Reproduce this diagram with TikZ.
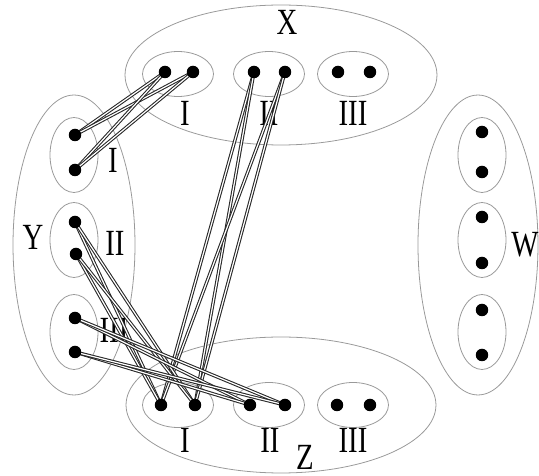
\documentclass[tikz,border=0pt]{standalone}
\usepackage{fontspec}
\setmainfont{Liberation Serif}
\newfontfamily\lblfont[FakeStretch=0.78]{Liberation Serif}
\usetikzlibrary{shapes.geometric}
\begin{document}
\begin{tikzpicture}[x=0.02cm, y=-0.02cm,
  grp/.style={draw=black!40, ellipse, inner sep=0pt, line width=0.45pt},
  sub/.style={draw=black!40, ellipse, inner sep=0pt, line width=0.45pt,
              minimum width=1.42cm, minimum height=0.9cm},
  vsub/.style={draw=black!40, ellipse, inner sep=0pt, line width=0.45pt,
              minimum width=0.96cm, minimum height=1.5cm},
  dot/.style={fill=black, circle, inner sep=0pt, minimum size=0.25cm},
  link/.style={draw=black!85, double=white, double distance=0.7pt, line width=0.6pt},
  lbl/.style={font=\lblfont\fontsize{21}{21}\selectfont, inner sep=0pt}]
  \useasboundingbox (0,0) rectangle (539,476);

  % the four groups
  \node (X) [grp, minimum width=6.24cm, minimum height=2.8cm] at (281,75) {};
  \node (Z) [grp, minimum width=6.2cm, minimum height=2.72cm] at (281,405) {};
  \node (Y) [grp, minimum width=2.44cm, minimum height=6cm] at (74,245) {};
  \node (W) [grp, minimum width=2.4cm, minimum height=6cm] at (478,245) {};

  % parts of X and Z
  \node (x1) [sub] at (178,74) {};
  \node (x2) [sub] at (269,74) {};
  \node (x3) [sub] at (353,74) {};
  \node (z1) [sub] at (178,405) {};
  \node (z2) [sub] at (269,405) {};
  \node (z3) [sub] at (353,405) {};

  % parts of Y and W
  \node (y1) [vsub] at (74,155) {};
  \node (y2) [vsub] at (74,240) {};
  \node (y3) [vsub] at (74,332) {};
  \node (w1) [vsub] at (482,155) {};
  \node (w2) [vsub] at (482,240) {};
  \node (w3) [vsub] at (482,332) {};

  % labels
  \node (lX) [lbl] at (287,22) {X};
  \node (lZ) [lbl] at (305,457) {Z};
  \node (lY) [lbl] at (33,237) {Y};
  \node (lW) [lbl, anchor=east] at (539,245) {W};
  \node (lx1) [lbl] at (185,113) {I};
  \node (lx2) [lbl] at (269,113) {II};
  \node (lx3) [lbl] at (353,113) {III};
  \node (lz1) [lbl] at (185,440) {I};
  \node (lz2) [lbl] at (270,440) {II};
  \node (lz3) [lbl] at (353,440) {III};
  \node (ly1) [lbl] at (113,160) {I};
  \node (ly2) [lbl] at (115,243) {II};
  \node (ly3) [lbl] at (114,330) {III};

  % coordinates of the points
  \coordinate (xa) at (165,72);  \coordinate (xb) at (193,72);
  \coordinate (xc) at (254,72);  \coordinate (xd) at (285,72);
  \coordinate (xe) at (338,72);  \coordinate (xf) at (370,72);
  \coordinate (za) at (161,405); \coordinate (zb) at (195,405);
  \coordinate (zc) at (250,405); \coordinate (zd) at (285,405);
  \coordinate (ze) at (337,405); \coordinate (zf) at (370,405);
  \coordinate (ya) at (75,135);  \coordinate (yb) at (75,170);
  \coordinate (yc) at (75,222);  \coordinate (yd) at (76,254);
  \coordinate (ye) at (75,318);  \coordinate (yf) at (75,352);
  \coordinate (wa) at (482,132); \coordinate (wb) at (482,172);
  \coordinate (wc) at (482,217); \coordinate (wd) at (482,263);
  \coordinate (we) at (482,310); \coordinate (wf) at (482,355);

  % links between parts
  \draw[link] (ya) -- (xa);  \draw[link] (ya) -- (xb);
  \draw[link] (yb) -- (xa);  \draw[link] (yb) -- (xb);
  \draw[link] (xc) -- (za);  \draw[link] (xc) -- (zb);
  \draw[link] (xd) -- (za);  \draw[link] (xd) -- (zb);
  \draw[link] (yc) -- (za);  \draw[link] (yc) -- (zb);
  \draw[link] (yd) -- (za);  \draw[link] (yd) -- (zb);
  \draw[link] (ye) -- (zc);  \draw[link] (ye) -- (zd);
  \draw[link] (yf) -- (zc);  \draw[link] (yf) -- (zd);

  % points
  \node (pxa) [dot] at (xa) {}; \node (pxb) [dot] at (xb) {};
  \node (pxc) [dot] at (xc) {}; \node (pxd) [dot] at (xd) {};
  \node (pxe) [dot] at (xe) {}; \node (pxf) [dot] at (xf) {};
  \node (pza) [dot] at (za) {}; \node (pzb) [dot] at (zb) {};
  \node (pzc) [dot] at (zc) {}; \node (pzd) [dot] at (zd) {};
  \node (pze) [dot] at (ze) {}; \node (pzf) [dot] at (zf) {};
  \node (pya) [dot] at (ya) {}; \node (pyb) [dot] at (yb) {};
  \node (pyc) [dot] at (yc) {}; \node (pyd) [dot] at (yd) {};
  \node (pye) [dot] at (ye) {}; \node (pyf) [dot] at (yf) {};
  \node (pwa) [dot] at (wa) {}; \node (pwb) [dot] at (wb) {};
  \node (pwc) [dot] at (wc) {}; \node (pwd) [dot] at (wd) {};
  \node (pwe) [dot] at (we) {}; \node (pwf) [dot] at (wf) {};
\end{tikzpicture}
\end{document}
